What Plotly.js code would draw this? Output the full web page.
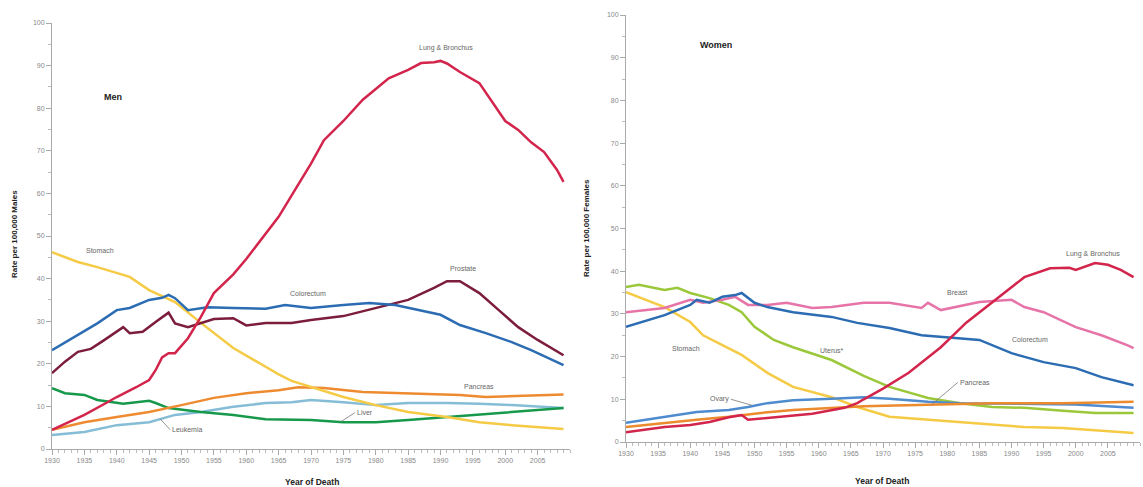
<!DOCTYPE html>
<html>
<head>
<meta charset="utf-8">
<script src="https://cdn.plot.ly/plotly-3.0.1.min.js"></script>
<style>html,body{margin:0;padding:0;background:#fff;}#chart{width:1143px;height:487px;}</style>
</head>
<body>
<div id="chart"></div>
<script>
// ---------- Men ----------
const menLungYears = [1930,1933,1935,1938,1940,1943,1945,1946,1947,1948,1949,1951,1953,1955,1958,1960,1962,1965,1968,1970,1972,1975,1978,1980,1982,1985,1987,1989,1990,1991,1993,1996,1998,2000,2002,2004,2006,2008,2009];
const menLung = [4.5,6.5,8,10.5,12.2,14.5,16.2,18.5,21.5,22.5,22.5,26,31,36.6,41,44.6,48.5,54.5,62,67,72.5,77,82,84.5,87,89,90.6,90.8,91.1,90.5,88.5,85.9,81.5,77,74.9,72,69.7,65.5,62.7];

const menProstateYears = [1930,1932,1934,1936,1938,1941,1942,1944,1946,1947,1948,1949,1951,1955,1958,1960,1963,1967,1970,1975,1980,1985,1989,1991,1993,1996,1999,2002,2005,2009];
const menProstate = [17.8,20.5,22.8,23.5,25.5,28.6,27.2,27.5,29.8,31,32,29.5,28.6,30.5,30.7,29,29.6,29.6,30.3,31.2,33.1,35,37.8,39.4,39.4,36.6,32.6,28.6,25.6,22];

const menColorectumYears = [1930,1932,1935,1937,1940,1942,1945,1947,1948,1949,1951,1954,1958,1963,1966,1970,1975,1979,1983,1985,1990,1993,1997,2001,2004,2009];
const menColorectum = [23.2,25,27.9,29.5,32.6,33.1,35,35.5,36.2,35.4,32.6,33.3,33.1,32.9,33.8,33.1,33.8,34.3,33.8,33.1,31.5,29.1,27.2,25.1,23.2,19.7];

const menStomachYears = [1930,1934,1937,1942,1945,1949,1953,1958,1963,1965,1967,1970,1975,1980,1985,1991,1996,2001,2009];
const menStomach = [46.2,43.9,42.7,40.4,37.3,34.5,29.6,23.7,19.3,17.5,16,14.6,12.2,10.3,8.7,7.5,6.3,5.6,4.7];

const menPancreasYears = [1930,1935,1940,1945,1950,1955,1960,1965,1968,1972,1978,1985,1993,1997,2001,2009];
const menPancreas = [4.5,6.3,7.5,8.7,10.3,12,13.1,13.8,14.5,14.3,13.4,13.1,12.7,12.2,12.4,12.8];

const menLeukemiaYears = [1930,1935,1940,1945,1949,1953,1958,1963,1967,1970,1975,1980,1985,1991,1996,2001,2009];
const menLeukemia = [3.3,4,5.6,6.3,8,8.7,9.9,10.8,11,11.5,11,10.3,10.8,10.8,10.6,10.3,9.6];

const menLiverYears = [1930,1932,1935,1937,1941,1945,1946,1948,1953,1958,1963,1967,1970,1975,1980,1985,1991,1996,2001,2009];
const menLiver = [14.3,13.1,12.7,11.5,10.6,11.3,10.8,9.6,8.7,8,7,6.8,6.8,6.3,6.3,6.8,7.5,8,8.5,9.6];

// ---------- Women ----------
const womenLungYears = [1930,1936,1940,1943,1946,1948,1949,1954,1959,1964,1966,1967,1970,1974,1979,1983,1988,1992,1996,1999,2000,2003,2005,2007,2009];
const womenLung = [2.3,3.5,4,4.7,5.8,6.3,5.2,5.9,6.6,8,9.1,10,12.5,16.2,22.2,28,34,38.6,40.7,40.8,40.3,41.9,41.5,40.3,38.6];

const womenBreastYears = [1930,1936,1940,1942,1945,1947,1949,1952,1955,1959,1962,1967,1971,1976,1977,1979,1985,1990,1992,1995,2000,2004,2008,2009];
const womenBreast = [30.4,31.4,33.3,32.6,33.3,34,32.1,32.1,32.6,31.4,31.6,32.6,32.6,31.4,32.6,30.9,32.8,33.3,31.6,30.4,26.9,25,22.7,22];

const womenColorectumYears = [1930,1936,1940,1941,1943,1945,1947,1948,1950,1952,1956,1962,1966,1971,1976,1981,1985,1990,1995,2000,2004,2009];
const womenColorectum = [27,29.7,32.1,33.3,32.6,34,34.4,34.9,32.6,31.6,30.4,29.3,27.9,26.7,25,24.4,23.9,20.8,18.7,17.3,15.2,13.3];

const womenStomachYears = [1930,1936,1940,1942,1945,1948,1952,1956,1962,1966,1971,1977,1982,1987,1992,1998,2003,2009];
const womenStomach = [35.1,31.6,28.1,25,22.7,20.4,16.2,12.9,10.5,8.2,5.9,5.2,4.5,4,3.5,3.3,2.8,2.1];

const womenUterusYears = [1930,1932,1936,1938,1940,1943,1946,1948,1950,1953,1956,1962,1967,1971,1977,1982,1987,1992,1998,2003,2009];
const womenUterus = [36.3,36.8,35.6,36.1,34.9,33.7,32.1,30.4,27,23.9,22.2,19.2,15.5,12.9,10.3,9.1,8.2,8,7.3,6.8,6.8];

const womenOvaryYears = [1930,1936,1941,1946,1949,1952,1956,1962,1967,1971,1977,1982,1990,2000,2009];
const womenOvary = [4.5,5.9,7,7.5,8.2,9.1,9.8,10.1,10.5,10.1,9.4,9.1,9,8.8,8];

const womenPancreasYears = [1930,1936,1941,1946,1951,1956,1962,1967,1977,1987,1998,2009];
const womenPancreas = [3.5,4.5,5.2,5.9,6.8,7.5,8,8.4,8.7,9.1,9.1,9.4];

// tick values
const yTicks = [0,10,20,30,40,50,60,70,80,90,100];
const xTicks = [1930,1935,1940,1945,1950,1955,1960,1965,1970,1975,1980,1985,1990,1995,2000,2005];

const C = {
  lung:'#d3254c', prostate:'#7c1d3b', colorectum:'#2c6cb2', stomach:'#f5ca45',
  pancreas:'#ee8b30', leukemia:'#86bdd6', liver:'#17994c',
  breast:'#e674a8', uterus:'#9bc83a', ovary:'#4f8bcf', wpancreas:'#ec8a2e'
};

function tr(x, y, color, ax, name){
  return {x:x, y:y, type:'scatter', mode:'lines', name:name,
    line:{color:color, width:2.5}, xaxis:ax==='2'?'x2':'x', yaxis:ax==='2'?'y2':'y',
    hoverinfo:'skip'};
}

const data = [
  tr(menLeukemiaYears, menLeukemia, C.leukemia, '1','Leukemia'),
  tr(menLiverYears, menLiver, C.liver, '1','Liver'),
  tr(menPancreasYears, menPancreas, C.pancreas, '1','Pancreas'),
  tr(menStomachYears, menStomach, C.stomach, '1','Stomach'),
  tr(menProstateYears, menProstate, C.prostate, '1','Prostate'),
  tr(menColorectumYears, menColorectum, C.colorectum, '1','Colorectum'),
  tr(menLungYears, menLung, C.lung, '1','Lung & Bronchus'),

  tr(womenStomachYears, womenStomach, C.stomach, '2','Stomach'),
  tr(womenUterusYears, womenUterus, C.uterus, '2','Uterus'),
  tr(womenOvaryYears, womenOvary, C.ovary, '2','Ovary'),
  tr(womenPancreasYears, womenPancreas, C.wpancreas, '2','Pancreas'),
  tr(womenBreastYears, womenBreast, C.breast, '2','Breast'),
  tr(womenColorectumYears, womenColorectum, C.colorectum, '2','Colorectum'),
  tr(womenLungYears, womenLung, C.lung, '2','Lung & Bronchus')
];

const W = 1143, H = 487;
const tickFont = {family:'Liberation Sans, Arial, sans-serif', size:7, color:'#888'};
function xa(d){
  return {domain:d, range:[1930,2010], showgrid:false, zeroline:false,
    showline:true, linecolor:'#aaa', linewidth:1, ticks:'outside', ticklen:5, tickwidth:1, tickcolor:'#aaa',
    tickmode:'array', tickvals:xTicks, ticktext:xTicks.map(String), tickfont:tickFont,
    minor:{dtick:1, tick0:1930, ticklen:3, tickcolor:'#bbb', ticks:'outside', showgrid:false},
    fixedrange:true};
}
function ya(d, anchor){
  return {domain:d, range:[0,100], showgrid:false, zeroline:false, anchor:anchor,
    showline:true, linecolor:'#aaa', linewidth:1, ticks:'outside', ticklen:5, tickwidth:1, tickcolor:'#aaa',
    tickmode:'array', tickvals:yTicks, ticktext:yTicks.map(String), tickfont:tickFont,
    minor:{dtick:5, tick0:0, ticklen:3, tickcolor:'#bbb', ticks:'outside', showgrid:false},
    fixedrange:true};
}

const lblFont = {family:'Liberation Sans, Arial, sans-serif', size:7, color:'#666'};
const boldFont = {family:'Liberation Sans, Arial, sans-serif', size:9, color:'#222'};
function lab(text, x, y, ax, extra){
  return Object.assign({text:text, x:x, y:y, xref:ax==='2'?'x2':'x', yref:ax==='2'?'y2':'y',
    showarrow:false, font:lblFont, xanchor:'center', yanchor:'middle'}, extra||{});
}
function lead(text, x, y, ax, axo, ayo, anchor){
  return {text:text, x:x, y:y, xref:ax==='2'?'x2':'x', yref:ax==='2'?'y2':'y',
    showarrow:true, arrowhead:0, arrowwidth:0.8, arrowcolor:'#777', ax:axo, ay:ayo,
    font:lblFont, xanchor:anchor, yanchor:'middle', standoff:0};
}

const annotations = [
  lab('<b>Men</b>', 1939.4, 82.6, '1', {font:boldFont}),
  lab('Lung & Bronchus', 1990.8, 94.1, '1'),
  lab('Stomach', 1937.4, 46.7, '1'),
  lab('Colorectum', 1969.5, 36.6, '1'),
  lab('Prostate', 1993.4, 42.3, '1'),
  lab('Pancreas', 1996, 14.6, '1'),
  lead('Liver', 1974.6, 6.4, '1', 14, -9, 'left'),
  lead('Leukemia', 1946.7, 7.1, '1', 10, 11, 'left'),

  lab('<b>Women</b>', 1944, 93, '2', {font:boldFont}),
  lab('Breast', 1981.5, 35.1, '2'),
  lab('Lung & Bronchus', 2002.7, 44, '2'),
  lab('Colorectum', 1992.9, 23.9, '2'),
  lab('Stomach', 1939.4, 22, '2'),
  lab('Uterus*', 1962.1, 21.5, '2'),
  lead('Pancreas', 1977.6, 8.8, '2', 26, -22, 'left'),
  lead('Ovary', 1949.6, 8.6, '2', -21, -6, 'right'),

  // axis titles
  {text:'<b>Rate per 100,000 Males</b>', xref:'paper', yref:'paper', x:14/W, y:1-234/H,
   textangle:-90, showarrow:false, font:{family:'Liberation Sans, Arial, sans-serif', size:8, color:'#222'}, xanchor:'center', yanchor:'middle'},
  {text:'<b>Rate per 100,000 Females</b>', xref:'paper', yref:'paper', x:586/W, y:1-228/H,
   textangle:-90, showarrow:false, font:{family:'Liberation Sans, Arial, sans-serif', size:8, color:'#222'}, xanchor:'center', yanchor:'middle'},
  {text:'<b>Year of Death</b>', xref:'paper', yref:'paper', x:312/W, y:1-482/H,
   showarrow:false, font:{family:'Liberation Sans, Arial, sans-serif', size:8.5, color:'#222'}, xanchor:'center', yanchor:'middle'},
  {text:'<b>Year of Death</b>', xref:'paper', yref:'paper', x:882/W, y:1-481/H,
   showarrow:false, font:{family:'Liberation Sans, Arial, sans-serif', size:8.5, color:'#222'}, xanchor:'center', yanchor:'middle'}
];

const layout = {
  width:W, height:H, autosize:false,
  margin:{l:0, r:0, t:0, b:0, pad:0},
  paper_bgcolor:'#fff', plot_bgcolor:'#fff',
  showlegend:false,
  xaxis: Object.assign(xa([52/W, 570/W]), {anchor:'y'}),
  yaxis: ya([1-449/H, 1-23/H], 'x'),
  xaxis2: Object.assign(xa([626/W, 1140/W]), {anchor:'y2'}),
  yaxis2: ya([1-442/H, 1-15/H], 'x2'),
  annotations: annotations
};

Plotly.newPlot('chart', data, layout, {displayModeBar:false, staticPlot:true});
</script>
</body>
</html>
